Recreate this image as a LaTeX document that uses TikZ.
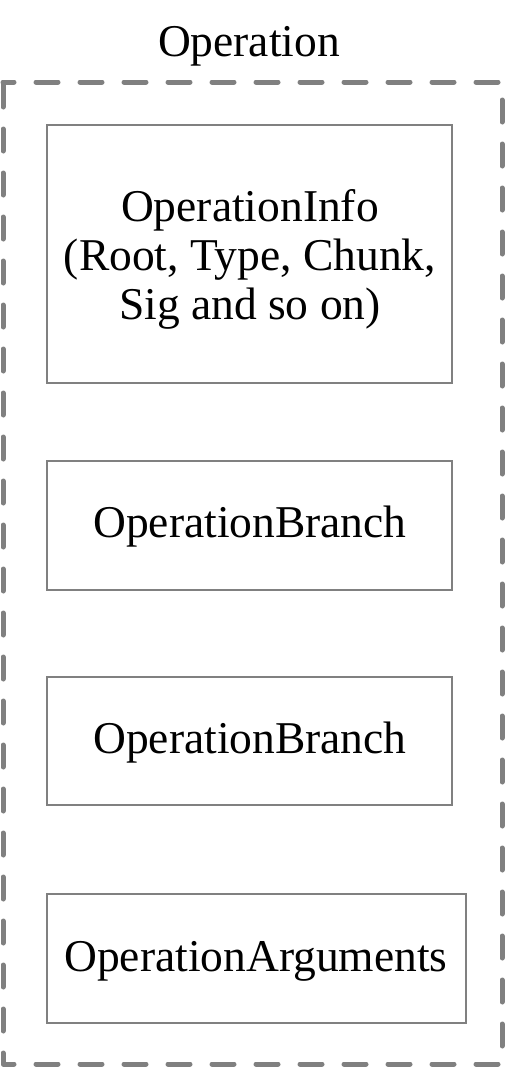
\documentclass[tikz,border=0pt]{standalone}
\usepackage{fontspec}
\setmainfont{Liberation Serif}
\begin{document}
\begin{tikzpicture}[x=1pt,y=-1pt,
  part/.style={draw=black!50,line width=2.8pt},
  lbl/.style={font=\fontsize{45.5}{49}\selectfont,align=center,inner sep=0pt},
  outer/.style={draw=black!50,line width=5pt,line cap=round,line join=round,dash pattern=on 22pt off 22pt,dash phase=11pt}]
\useasboundingbox (0,0) rectangle (505,1069);
\coordinate (tl) at (3,82);
\coordinate (tr) at (502,82);
\coordinate (br) at (502,1064);
\coordinate (bl) at (3,1064);
\draw[outer] (tl) -- (tr) -- (br) -- (bl) -- cycle;
\node[lbl] (title) at (249,46) {Operation};
\draw[part] (47,125) rectangle (452,383);
\node[lbl] (info) at (250,259) {OperationInfo\\(Root, Type, Chunk,\\Sig and so on)};
\draw[part] (47,461) rectangle (452,590);
\node[lbl] (br1) at (250,527) {OperationBranch};
\draw[part] (47,677) rectangle (452,805);
\node[lbl] (br2) at (250,743) {OperationBranch};
\draw[part] (47,894) rectangle (466,1023);
\node[lbl] (args) at (256,961) {OperationArguments};
\end{tikzpicture}
\end{document}
